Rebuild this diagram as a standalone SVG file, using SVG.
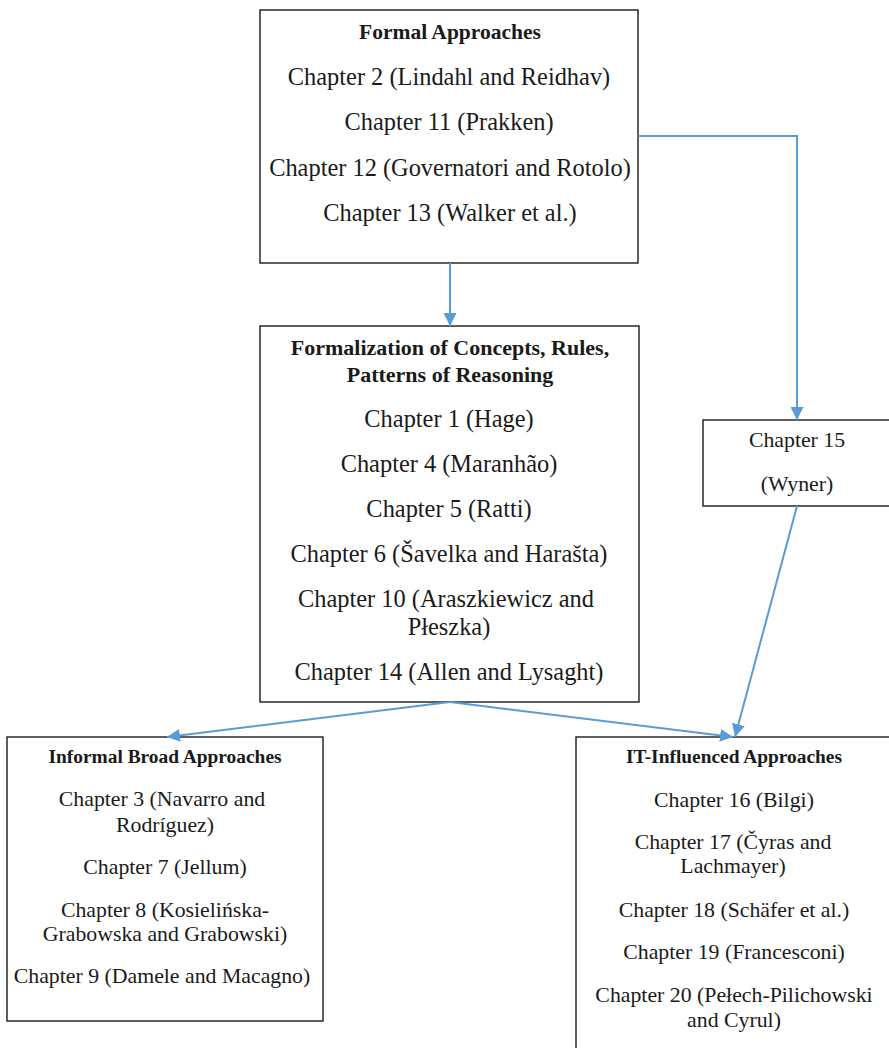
<svg xmlns="http://www.w3.org/2000/svg" width="889" height="1048" viewBox="0 0 889 1048">
  <style>
    .box { fill: #ffffff; stroke: #1a1a1a; stroke-width: 1.4; }
    .link { fill: none; stroke: #5b9bd5; stroke-width: 2; }
    text { font-family: "Liberation Serif", "Times New Roman", serif; fill: #1a1a1a; text-anchor: middle; }
    .t-big { font-size: 24.4px; }
    .t-sm { font-size: 21.8px; }
    .h-big { font-size: 21.5px; font-weight: bold; }
    .h-mid { font-size: 22px; font-weight: bold; }
    .h-sm { font-size: 19.4px; font-weight: bold; }
  </style>
  <defs>
    <marker id="arrow" viewBox="0 0 13 13" refX="13" refY="6.5" markerWidth="13" markerHeight="13" markerUnits="userSpaceOnUse" orient="auto">
      <path d="M0,0 L13,6.5 L0,13 z" fill="#5b9bd5"/>
    </marker>
  </defs>
  <rect width="889" height="1048" fill="#ffffff"/>

  <g id="formal">
    <rect class="box" x="260" y="10" width="378" height="253"/>
    <text class="h-big" x="450" y="39">Formal Approaches</text>
    <text class="t-big" x="449" y="85">Chapter 2 (Lindahl and Reidhav)</text>
    <text class="t-big" x="449" y="130">Chapter 11 (Prakken)</text>
    <text class="t-big" x="450" y="176">Chapter 12 (Governatori and Rotolo)</text>
    <text class="t-big" x="450" y="221">Chapter 13 (Walker et al.)</text>
  </g>

  <g id="formalization">
    <rect class="box" x="260" y="326" width="379" height="376"/>
    <text class="h-mid" x="450" y="355">Formalization of Concepts, Rules,</text>
    <text class="h-mid" x="450" y="382">Patterns of Reasoning</text>
    <text class="t-big" x="449" y="427">Chapter 1 (Hage)</text>
    <text class="t-big" x="449" y="472">Chapter 4 (Maranhão)</text>
    <text class="t-big" x="449" y="517">Chapter 5 (Ratti)</text>
    <text class="t-big" x="449" y="562">Chapter 6 (Šavelka and Harašta)</text>
    <text class="t-big" x="446" y="607">Chapter 10 (Araszkiewicz and</text>
    <text class="t-big" x="449" y="635">Płeszka)</text>
    <text class="t-big" x="449" y="680">Chapter 14 (Allen and Lysaght)</text>
  </g>

  <g id="chapter15">
    <rect class="box" x="703" y="420" width="190" height="86"/>
    <text class="t-sm" x="797" y="447">Chapter 15</text>
    <text class="t-sm" x="797" y="491">(Wyner)</text>
  </g>

  <g id="informal">
    <rect class="box" x="7" y="737" width="316" height="284"/>
    <text class="h-sm" x="165" y="763">Informal Broad Approaches</text>
    <text class="t-sm" x="162" y="806">Chapter 3 (Navarro and</text>
    <text class="t-sm" x="165" y="832">Rodríguez)</text>
    <text class="t-sm" x="165" y="874">Chapter 7 (Jellum)</text>
    <text class="t-sm" x="165" y="917">Chapter 8 (Kosielińska-</text>
    <text class="t-sm" x="165" y="941">Grabowska and Grabowski)</text>
    <text class="t-sm" x="162" y="983">Chapter 9 (Damele and Macagno)</text>
  </g>

  <g id="it-influenced">
    <rect class="box" x="576" y="737" width="320" height="320"/>
    <text class="h-sm" x="734" y="763">IT-Influenced Approaches</text>
    <text class="t-sm" x="734" y="807">Chapter 16 (Bilgi)</text>
    <text class="t-sm" x="733" y="849">Chapter 17 (Čyras and</text>
    <text class="t-sm" x="733" y="873">Lachmayer)</text>
    <text class="t-sm" x="734" y="917">Chapter 18 (Schäfer et al.)</text>
    <text class="t-sm" x="734" y="959">Chapter 19 (Francesconi)</text>
    <text class="t-sm" x="734" y="1002">Chapter 20 (Pełech-Pilichowski</text>
    <text class="t-sm" x="734" y="1027">and Cyrul)</text>
  </g>

  <g id="connectors">
    <path class="link" d="M450,263 L450,326" marker-end="url(#arrow)"/>
    <path class="link" d="M638,136 L797,136 L797,420" marker-end="url(#arrow)"/>
    <path class="link" d="M450,702 L167,737" marker-end="url(#arrow)"/>
    <path class="link" d="M450,702 L733,737" marker-end="url(#arrow)"/>
    <path class="link" d="M797,506 L735,737" marker-end="url(#arrow)"/>
  </g>
</svg>
